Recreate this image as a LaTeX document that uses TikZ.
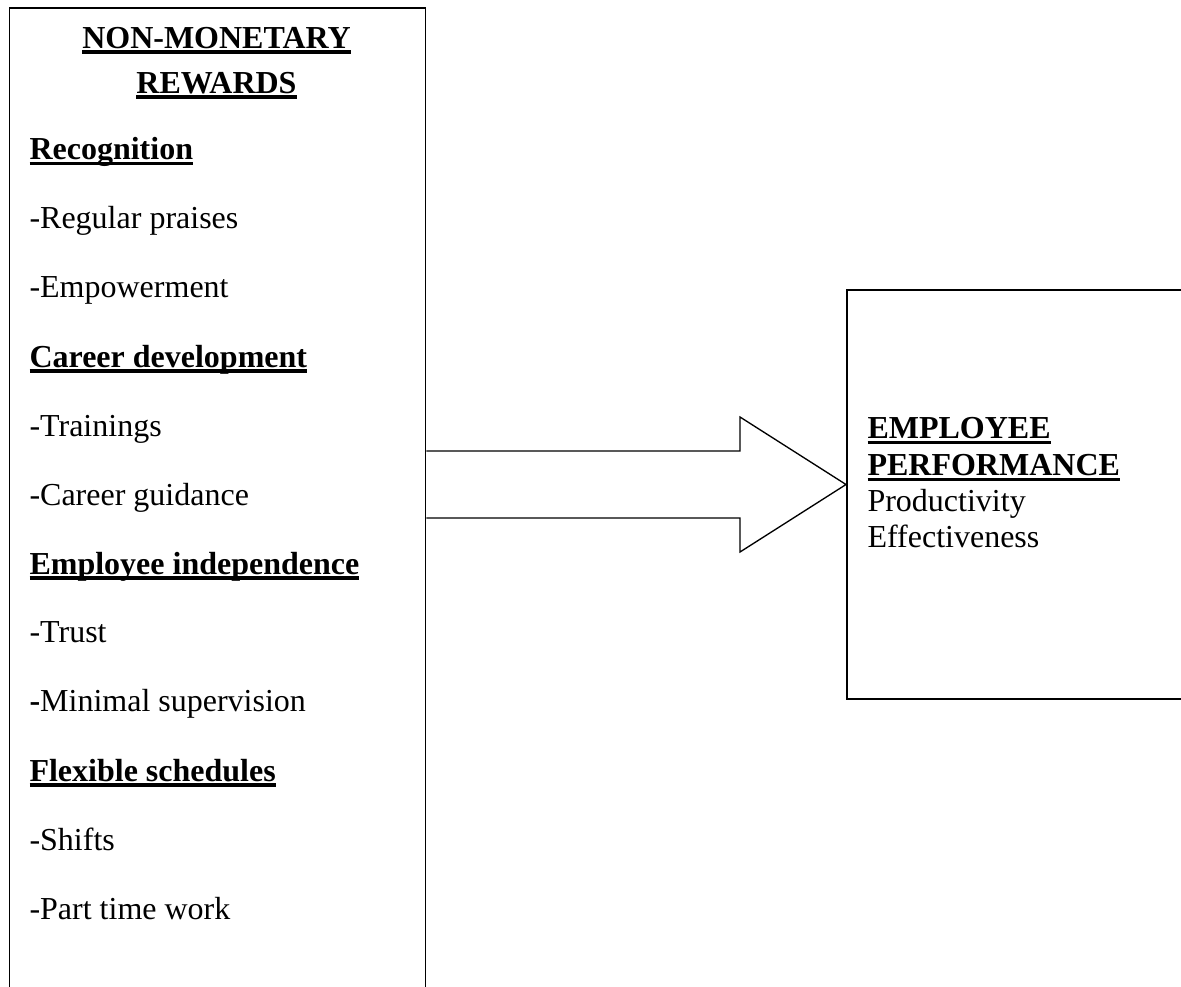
\documentclass[tikz,border=0pt]{standalone}
\usepackage{fontspec}
\setmainfont{Liberation Serif}
\usetikzlibrary{calc}
% bold heading with a heavy underline just below the baseline
\newcommand\headul[1]{\setbox0\hbox{\bfseries #1}\rlap{\rule[-2.1pt]{\wd0}{1.2pt}}\box0}
\begin{document}
\begin{tikzpicture}[x=0.375pt,y=-0.375pt,
  box/.style={draw, line width=0.7pt, inner sep=0pt, anchor=north west},
  item/.style={anchor=base west, inner sep=0pt, font=\fontsize{12}{14}\selectfont},
  title/.style={anchor=base, inner sep=0pt, font=\fontsize{12}{14}\selectfont},
  blockarrow/.style={draw, line width=0.5pt, fill=white, line join=miter}]
\useasboundingbox (0,0) rectangle (1181,986);
\clip (0,0) rectangle (1181,986);

% the two boxes (both run past the page edge)
\node[box, minimum width=156pt, minimum height=380pt] (nmr) at (8.5,7) {};
\node[box, minimum width=135pt, minimum height=153.4pt] (ep) at (846,289) {};

% block arrow from the rewards box to the performance box
\coordinate (tail) at (nmr.north east |- 0,484.5);
\coordinate (tip) at (ep.north west |- 0,484.5);
\draw[blockarrow] ($(tail)+(0,-33.5)$) -- ($(tip)+(-106,-33.5)$) -- ($(tip)+(-106,-67.5)$)
  -- (tip) -- ($(tip)+(-106,67.5)$) -- ($(tip)+(-106,33.5)$) -- ($(tail)+(0,33.5)$);

% left box contents
\node[title] (t1) at (216.5,48) {\headul{NON-MONETARY}};
\node[title] (t2) at (216.5,93) {\headul{REWARDS}};
\node[item] (h1) at (29,159.5) {\headul{Recognition}};
\node[item] (a1) at (29,228) {-Regular praises};
\node[item] (a2) at (29,297.5) {-Empowerment};
\node[item] (h2) at (29,367) {\headul{Career development}};
\node[item] (b1) at (29,436) {-Trainings};
\node[item] (b2) at (29,505) {-Career guidance};
\node[item] (h3) at (29,574) {\headul{Employee independence}};
\node[item] (c1) at (29,642.5) {-Trust};
\node[item] (c2) at (29,711.5) {\textbf{-}Minimal supervision};
\node[item] (h4) at (29,781) {\headul{Flexible schedules}};
\node[item] (d1) at (29,850) {-Shifts};
\node[item] (d2) at (29,919.5) {-Part time work};

% right box contents
\node[item] (e1) at (867,438.5) {\headul{EMPLOYEE}};
\node[item] (e2) at (867,475.5) {\headul{PERFORMANCE}};
\node[item] (e3) at (867,511.5) {Productivity};
\node[item] (e4) at (867,547.5) {Effectiveness};
\end{tikzpicture}
\end{document}
